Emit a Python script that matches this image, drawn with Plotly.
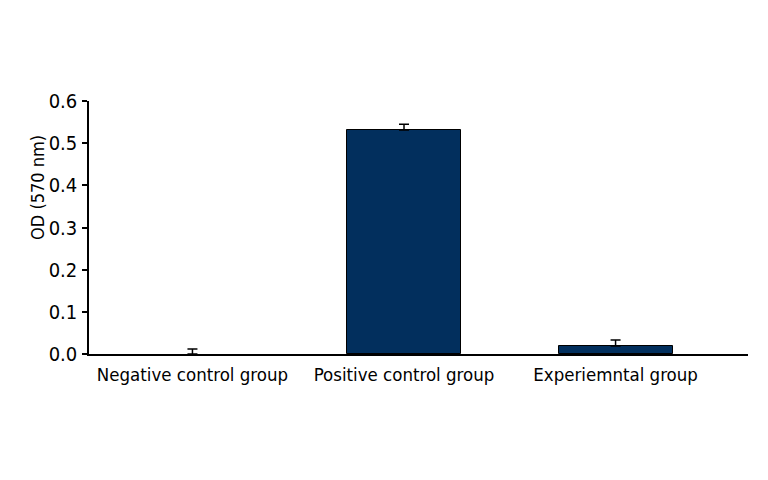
import plotly.graph_objects as go

categories = ["Negative control group", "Positive control group", "Experiemntal group"]
od_values = [0.0, 0.531, 0.019]
od_errors = [0.012, 0.014, 0.014]

font_family = "DejaVu Sans Condensed, Liberation Sans Narrow, sans-serif"

fig = go.Figure()
fig.add_trace(go.Bar(
    x=categories,
    y=od_values,
    width=0.539,
    marker=dict(color="#022f5d", line=dict(color="#000000", width=[0, 1, 1])),
    error_y=dict(type="data", symmetric=False, array=od_errors,
                 arrayminus=[0, 0, 0], color="#000000", thickness=1.5, width=5),
))

fig.update_layout(
    width=768, height=480,
    margin=dict(l=81, r=28, t=93, b=134),
    paper_bgcolor="white", plot_bgcolor="white",
    showlegend=False,
    font=dict(family=font_family, size=19, color="#000000"),
    bargap=0,
)
fig.update_xaxes(
    type="category", range=[-0.489, 2.626],
    showline=True, linecolor="#000000", linewidth=1.5,
    ticks="", showgrid=False, tickfont=dict(size=18.5), ticklabelstandoff=3,
)
fig.update_yaxes(
    range=[0, 0.6], dtick=0.1, tickformat=".1f",
    showline=True, linecolor="#000000", linewidth=1.5,
    ticks="outside", ticklen=5, tickwidth=1.5, tickcolor="#000000",
    showgrid=False, zeroline=False, tickfont=dict(size=20), ticklabelstandoff=1,
)
fig.add_annotation(
    text="OD (570 nm)", textangle=-90, xref="paper", yref="paper",
    x=-0.079, y=0.66, xanchor="center", yanchor="middle", showarrow=False,
    font=dict(size=18),
)

fig.write_html("out.html")
